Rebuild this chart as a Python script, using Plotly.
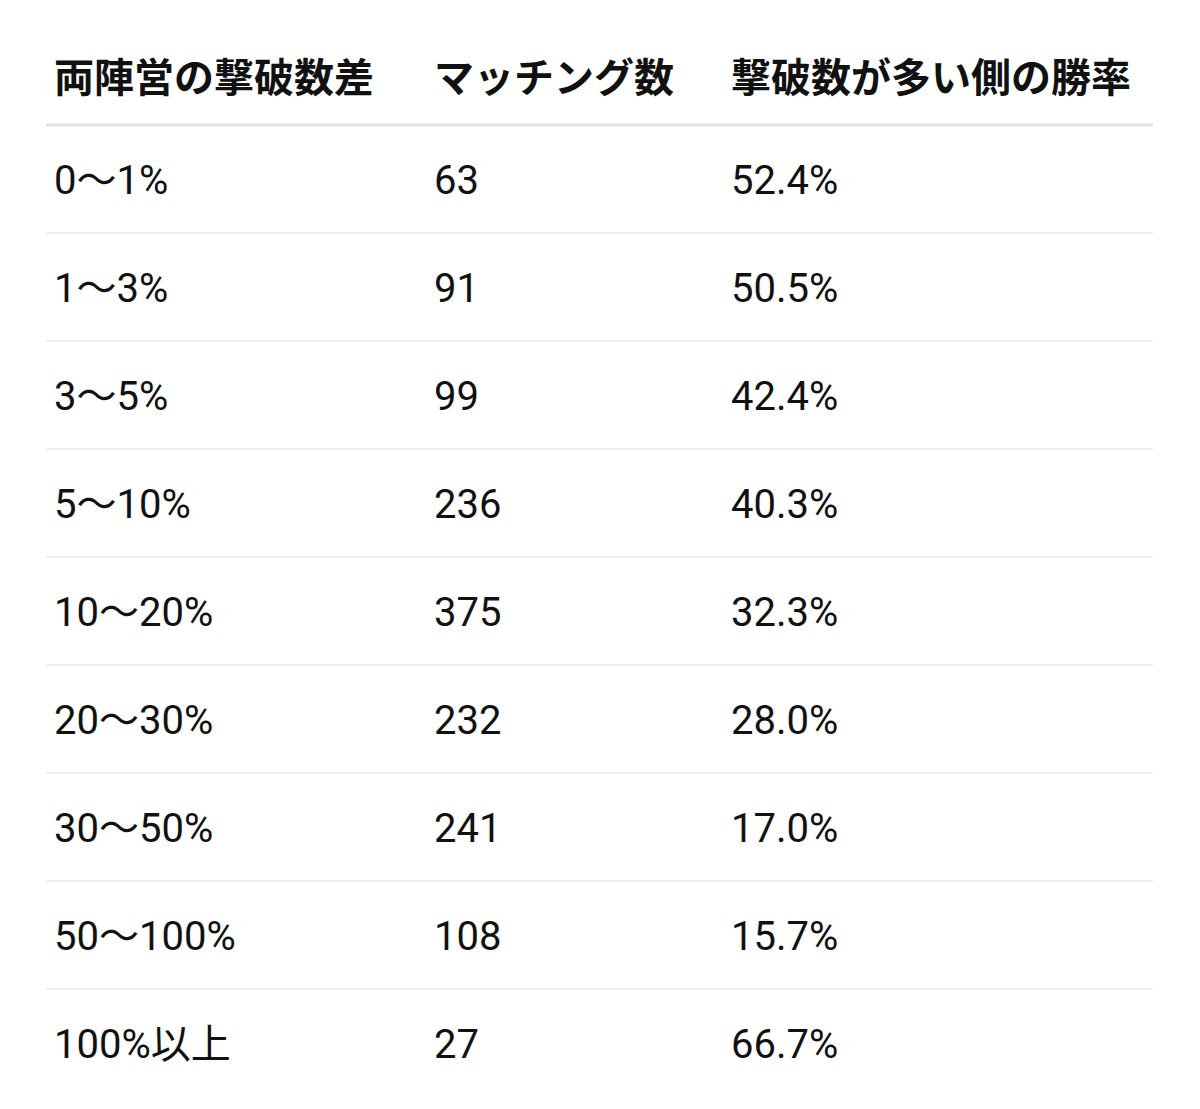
import plotly.graph_objects as go

headers = ["両陣営の撃破数差", "マッチング数", "撃破数が多い側の勝率"]
categories = ["0〜1%", "1〜3%", "3〜5%", "5〜10%", "10〜20%", "20〜30%", "30〜50%", "50〜100%", "100%以上"]
matches = [63, 91, 99, 236, 375, 232, 241, 108, 27]
win_rates = ["52.4%", "50.5%", "42.4%", "40.3%", "32.3%", "28.0%", "17.0%", "15.7%", "66.7%"]

W, H = 1200, 1109
off = 8  # page body margin
col_x = [54 - off, 434 - off, 731 - off]
header_y = 74
row0 = 176
row_h = 108
font = "Roboto, Noto Sans CJK JP"

fig = go.Figure()
fig.add_trace(go.Scatter(x=col_x, y=[header_y] * 3, text=[f"<b>{h}</b>" for h in headers],
                         mode="text", textposition="middle right",
                         textfont=dict(family="Noto Sans CJK JP", size=40, color="#111111"), hoverinfo="skip"))
rows_y = [row0 + i * row_h for i in range(len(categories))]
columns = [categories, [str(m) for m in matches], win_rates]
for cx, vals in zip(col_x, columns):
    fig.add_trace(go.Scatter(x=[cx] * len(vals), y=rows_y, text=vals, mode="text",
                             textposition="middle right",
                             textfont=dict(family=font, size=40, color="#111111"), hoverinfo="skip"))

fig.add_shape(type="line", x0=46 - off, x1=1153 - off, y0=125 - off, y1=125 - off,
              line=dict(color="#e2e2e2", width=3))
for i in range(len(categories) - 1):
    y = 233 + i * row_h - off
    fig.add_shape(type="line", x0=46 - off, x1=1153 - off, y0=y, y1=y, line=dict(color="#eeeeee", width=2))

fig.update_layout(width=W, height=H, margin=dict(l=0, r=0, t=0, b=0), showlegend=False,
                  paper_bgcolor="white", plot_bgcolor="white",
                  xaxis=dict(range=[0, W], visible=False, fixedrange=True),
                  yaxis=dict(range=[H, 0], visible=False, fixedrange=True))
fig.write_html("out.html")
